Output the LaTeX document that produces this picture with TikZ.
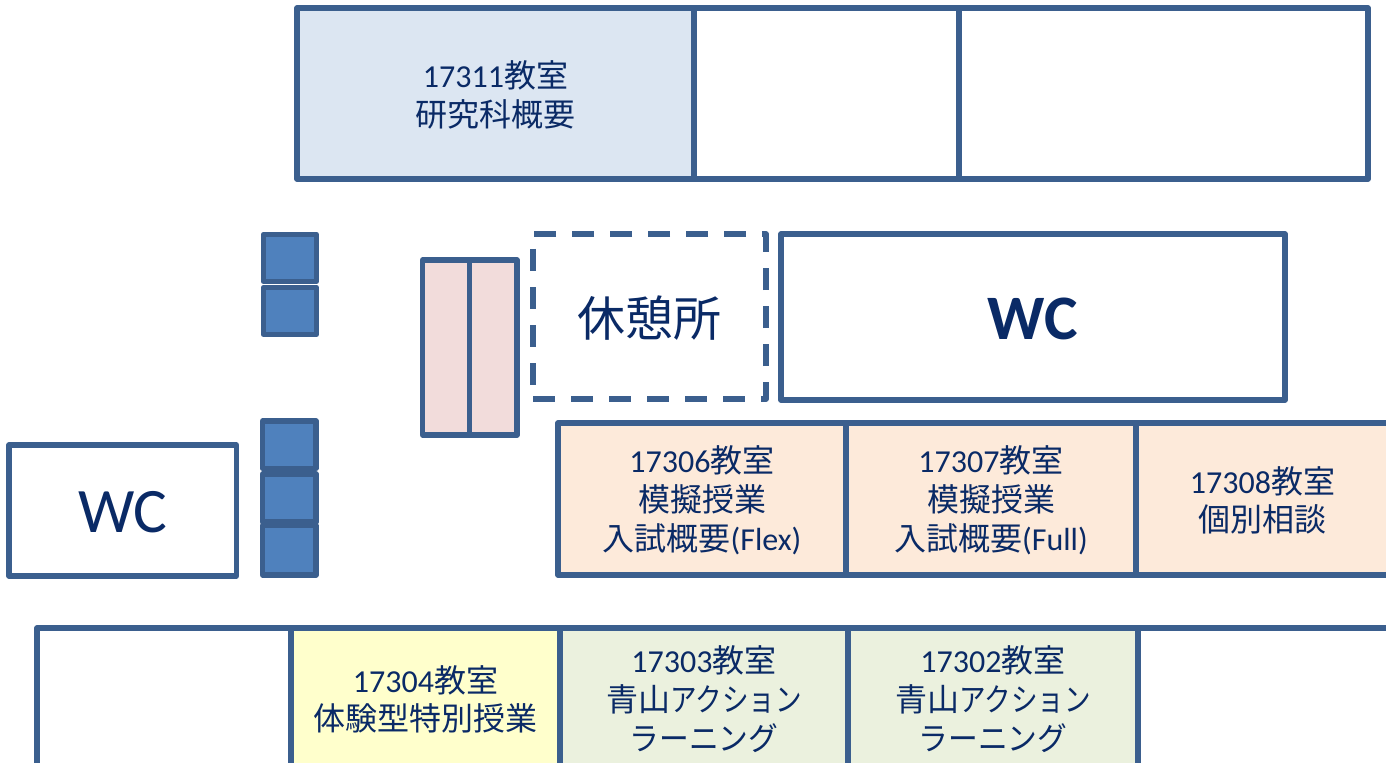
\documentclass[tikz,border=0pt]{standalone}
\usepackage{fontspec}
\setmainfont{Carlito}
\newfontfamily\cjk{Noto Sans CJK JP}
\newfontfamily\kana[FakeStretch=0.83]{Noto Sans CJK JP}
\newfontfamily\kanawide[FakeStretch=0.93]{Noto Sans CJK JP}
\definecolor{edgeblue}{HTML}{3B5F8E}
\definecolor{inkblue}{HTML}{0A2A66}
\definecolor{fillsky}{HTML}{DCE6F2}
\definecolor{fillrose}{HTML}{F2DCDB}
\definecolor{fillpeach}{HTML}{FDEADA}
\definecolor{fillyellow}{HTML}{FFFFCC}
\definecolor{fillgreen}{HTML}{EBF1DE}
\definecolor{fillsquare}{HTML}{4F81BD}
\newcommand\roomfont{\fontsize{24}{29}\selectfont}
\newcommand\tightlines{\lineskiplimit -100pt\relax\rule{0pt}{22pt}}
\newcommand\lowered[1]{\raisebox{-1.5pt}[\height][\depth]{#1}}
\tikzset{
  room/.style={draw=edgeblue,line width=3.9pt,line join=round,inner sep=0pt,outer sep=0pt,
    text=inkblue,align=center,font=\roomfont},
  bigtext/.style={font=\fontsize{36}{40}\selectfont},
  wctext/.style={font=\fontsize{47.5}{50}\selectfont},
  wcbold/.style={font=\fontsize{47.5}{50}\selectfont\bfseries},
  dashedroom/.style={dash pattern=on 16.5pt off 12pt},
}
% name, x1, y1, x2, y2, options, text
\newcommand\roombox[7]{%
  \pgfmathsetmacro\rcx{(#2+#4)/2}%
  \pgfmathsetmacro\rcy{(#3+#5)/2}%
  \pgfmathsetmacro\rw{(#4-#2)*0.75}%
  \pgfmathsetmacro\rh{(#5-#3)*0.75}%
  \node[room,minimum width=\rw pt,minimum height=\rh pt,#6] (#1) at (\rcx,\rcy) {\tightlines #7};%
}
\begin{document}
\begin{tikzpicture}[x=0.75pt,y=-0.75pt]
\useasboundingbox (0,0) rectangle (1386,763);
\clip (0,0) rectangle (1386,763);
\fill[white] (0,0) rectangle (1386,763);
% top row
\roombox{r17311}{297}{8}{694}{179}{fill=fillsky}{17311{\cjk 教室}\\{\cjk 研究科概要}}
\roombox{topmid}{694}{8}{959}{179}{}{}
\roombox{topright}{959}{8}{1368}{179}{}{}
% blue squares
\roombox{sqa}{263.5}{234.5}{316.5}{281.5}{fill=fillsquare}{}
\roombox{sqb}{263.5}{287.5}{316.5}{334.5}{fill=fillsquare}{}
\roombox{sqc}{262.5}{421}{316}{468.5}{fill=fillsquare}{}
\roombox{sqd}{262.5}{474}{316}{522}{fill=fillsquare}{}
\roombox{sqe}{262.5}{525.5}{316}{575}{fill=fillsquare}{}
% pink cells
\roombox{pinka}{422.5}{260}{469.7}{435}{fill=fillrose}{}
\roombox{pinkb}{469.7}{260}{517}{435}{fill=fillrose}{}
% rest area and WCs
\roombox{rest}{533}{234}{766}{399}{dashedroom,bigtext}{\lowered{\cjk 休憩所}}
\roombox{wcbig}{781}{234}{1285}{400}{wcbold}{\lowered{WC}}
\roombox{wcleft}{9}{445}{236.5}{576}{wctext}{\lowered{WC}}
% middle row
\roombox{r17306}{558}{423}{846}{575}{fill=fillpeach}{17306{\cjk 教室}\\{\cjk 模擬授業}\\{\cjk 入試概要}(Flex)}
\roombox{r17307}{846}{423}{1136}{575}{fill=fillpeach}{17307{\cjk 教室}\\{\cjk 模擬授業}\\{\cjk 入試概要}(Full)}
\roombox{r17308}{1136}{423}{1389}{575}{fill=fillpeach}{17308{\cjk 教室}\\{\cjk 個別相談}}
% bottom row
\roombox{botleft}{37}{628}{291}{768}{}{}
\roombox{r17304}{291}{628}{560}{768}{fill=fillyellow}{17304{\cjk 教室}\\{\cjk 体験型特別授業}}
\roombox{r17303}{560}{628}{848}{768}{fill=fillgreen}{17303{\cjk 教室}\\{\cjk 青山}{\kana アクション}\\{\kanawide ラーニング}}
\roombox{r17302}{848}{628}{1138}{768}{fill=fillgreen}{17302{\cjk 教室}\\{\cjk 青山}{\kana アクション}\\{\kanawide ラーニング}}
\roombox{botright}{1138}{628}{1389}{768}{}{}
\end{tikzpicture}
\end{document}
